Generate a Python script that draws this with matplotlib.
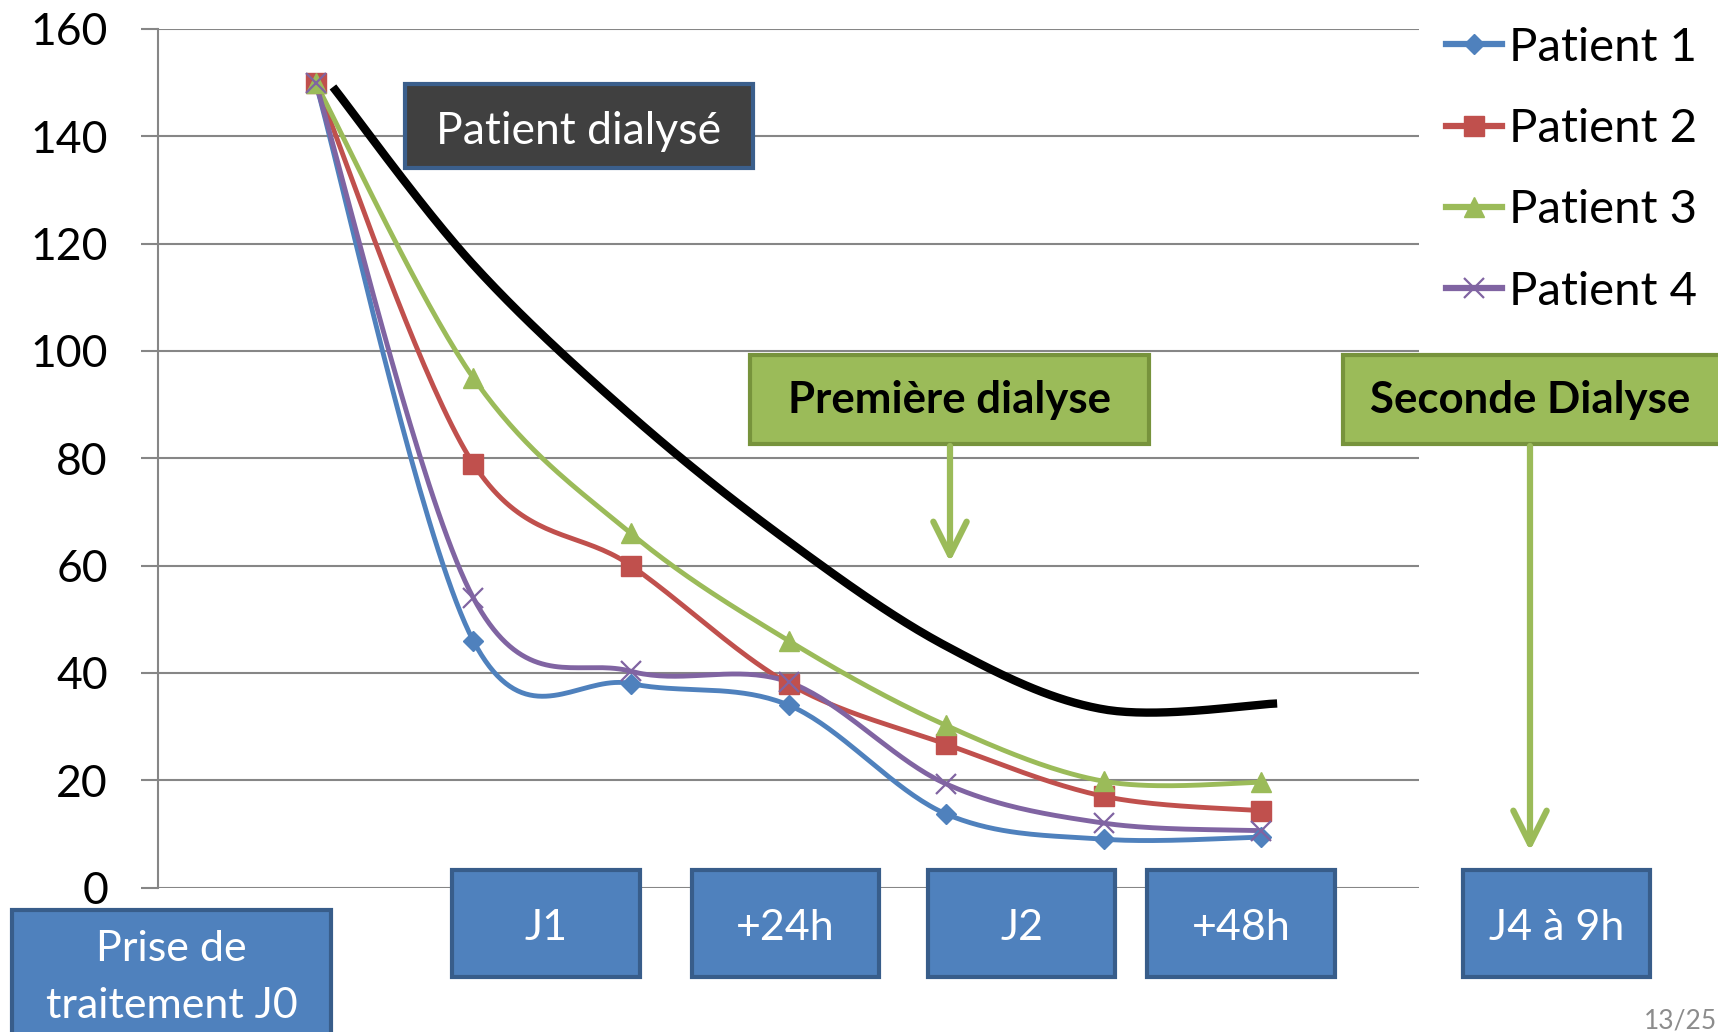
import numpy as np
import matplotlib.pyplot as plt
from matplotlib.patches import Rectangle, FancyArrowPatch
from matplotlib.lines import Line2D

plt.rcParams['font.family'] = ['Lato', 'DejaVu Sans']

W, H = 1718, 1032

# category slots: points sit on slots 1..7 of an 8-wide axis
x_points = [1, 2, 3, 4, 5, 6, 7]

patient_1 = [150, 46, 38, 34, 13.7, 9.0, 9.4]
patient_2 = [150, 79, 60, 38, 26.7, 17, 14.3]
patient_3 = [150, 95, 66, 46, 30.2, 19.8, 19.6]
patient_4 = [150, 54, 40.3, 38.3, 19.3, 12, 10.6]

series_names = ["Patient 1", "Patient 2", "Patient 3", "Patient 4"]
series_colors = ["#4F81BD", "#C0504D", "#9BBB59", "#8064A2"]

# hand-drawn trend of the dialysed patient
dialyse_x = [1.11, 1.99, 3.0, 4.0, 5.0, 6.0, 7.10]
dialyse_y = [149.2, 116.4, 88.0, 64.5, 45.0, 33.2, 34.3]

y_ticks = [0, 20, 40, 60, 80, 100, 120, 140, 160]

time_labels = ["Prise de\ntraitement J0", "J1", "+24h", "J2", "+48h", "J4 à 9h"]


def smooth(xs, ys, n=40):
    """Bezier smoothing through every point (same tangents as an office smoothed line)."""
    pts = np.column_stack([xs, ys]).astype(float)
    p = np.vstack([pts[0], pts, pts[-1]])
    out = []
    t = np.linspace(0, 1, n)[:, None]
    for i in range(1, len(p) - 2):
        p0, p1, p2, p3 = p[i - 1], p[i], p[i + 1], p[i + 2]
        c1 = p1 + (p2 - p0) / 6
        c2 = p2 - (p3 - p1) / 6
        seg = (1 - t) ** 3 * p1 + 3 * (1 - t) ** 2 * t * c1 + 3 * (1 - t) * t ** 2 * c2 + t ** 3 * p2
        out.append(seg if i == 1 else seg[1:])
    curve = np.vstack(out)
    return curve[:, 0], curve[:, 1]


def fx(px):
    return px / W


def fy(py):
    return 1 - py / H


def box(x0, y0, x1, y1, face, edge, lw=3):
    r = Rectangle((fx(x0), fy(y1)), fx(x1) - fx(x0), fy(y0) - fy(y1),
                  transform=fig.transFigure, facecolor=face, edgecolor=edge,
                  linewidth=lw, zorder=5)
    fig.add_artist(r)


fig = plt.figure(figsize=(W / 100, H / 100), dpi=100)
ax = fig.add_axes([fx(158), fy(887.5), fx(1419) - fx(158), fy(29) - fy(887.5)])

grid_c = "#868686"
ax.set_xlim(0, 8)
ax.set_ylim(0, 160)
ax.set_yticks(y_ticks)
ax.set_xticks([])
ax.yaxis.grid(True, color=grid_c, linewidth=1.5)
ax.set_axisbelow(True)
for side in ["top", "right", "bottom"]:
    ax.spines[side].set_visible(False)
ax.spines["left"].set_color(grid_c)
ax.spines["left"].set_linewidth(1.5)
ax.tick_params(axis="y", direction="out", length=12, width=1.5, color=grid_c,
               pad=24, labelsize=32)

markers = [("D", 10, 1), ("s", 14, 1), ("^", 15, 1), ("x", 14, 1.6)]
all_series = [patient_1, patient_2, patient_3, patient_4]
handles = []
for vals, name, col, (m, ms, mew) in zip(all_series, series_names, series_colors, markers):
    sx, sy = smooth(x_points, vals)
    ax.plot(sx, sy, color=col, linewidth=3.5, solid_capstyle="round", zorder=3)
    ax.plot(x_points, vals, linestyle="none", marker=m, markersize=ms,
            color=col, markeredgecolor=col, markeredgewidth=mew, zorder=4)
    handles.append(Line2D([], [], color=col, linewidth=4.5, marker=m, markersize=ms,
                          markeredgecolor=col, markeredgewidth=mew, label=name))

bx, by = smooth(dialyse_x, dialyse_y)
ax.plot(bx, by, color="black", linewidth=6, solid_capstyle="butt", zorder=6)

fig.legend(handles=handles, loc="upper left", bbox_to_anchor=(fx(1446), fy(27)),
           frameon=False, fontsize=34, handlelength=1.18, handletextpad=0.15,
           labelspacing=0.83, borderpad=0, borderaxespad=0, numpoints=1)

# "Patient dialysé" label
box(405, 84, 753, 168, "#404040", "#3B5F8C")
fig.text(fx(579), fy(144), "Patient dialysé", color="white", fontsize=32,
         ha="center", va="baseline", zorder=7)

# dialysis sessions with their arrows
green, green_edge = "#9BBB59", "#77933C"
box(750, 355, 1149, 444, green, green_edge)
fig.text(fx(949.5), fy(413), "Première dialyse", color="black", fontsize=31.5,
         fontweight="bold", ha="center", va="baseline", zorder=7)
box(1343, 355, 1722, 444, green, green_edge)
fig.text(fx(1530), fy(413), "Seconde Dialyse", color="black", fontsize=31.5,
         fontweight="bold", ha="center", va="baseline", zorder=7)

for ax_x, tip in [(950, 562), (1530, 851)]:
    fig.add_artist(FancyArrowPatch(
        (fx(ax_x), fy(446)), (fx(ax_x), fy(tip)), transform=fig.transFigure,
        arrowstyle="->,head_length=24,head_width=12", color=green,
        linewidth=4.5, shrinkA=0, shrinkB=0, zorder=5))

# time-point boxes under the axis
blue, blue_edge = "#4F81BD", "#385D8A"
slots = [(12, 331, 910, 1045), (452, 640, 870, 977), (692, 879, 870, 977),
         (928, 1115, 870, 977), (1147, 1335, 870, 977), (1463, 1650, 870, 977)]
for label, (x0, x1, y0, y1) in zip(time_labels, slots):
    box(x0, y0, x1, y1, blue, blue_edge)
    cx = (x0 + x1) / 2
    if "\n" in label:
        first, second = label.split("\n")
        fig.text(fx(cx), fy(961), first, color="white", fontsize=31,
                 ha="center", va="baseline", zorder=7)
        fig.text(fx(cx), fy(1018), second, color="white", fontsize=31,
                 ha="center", va="baseline", zorder=7)
    else:
        fig.text(fx(cx), fy(940), label, color="white", fontsize=31,
                 ha="center", va="baseline", zorder=7)

fig.text(fx(1717), fy(1028), "13/25", color="#8C8C8C", fontsize=19,
         ha="right", va="baseline")

fig.savefig("out.png", dpi=100, facecolor="white")
